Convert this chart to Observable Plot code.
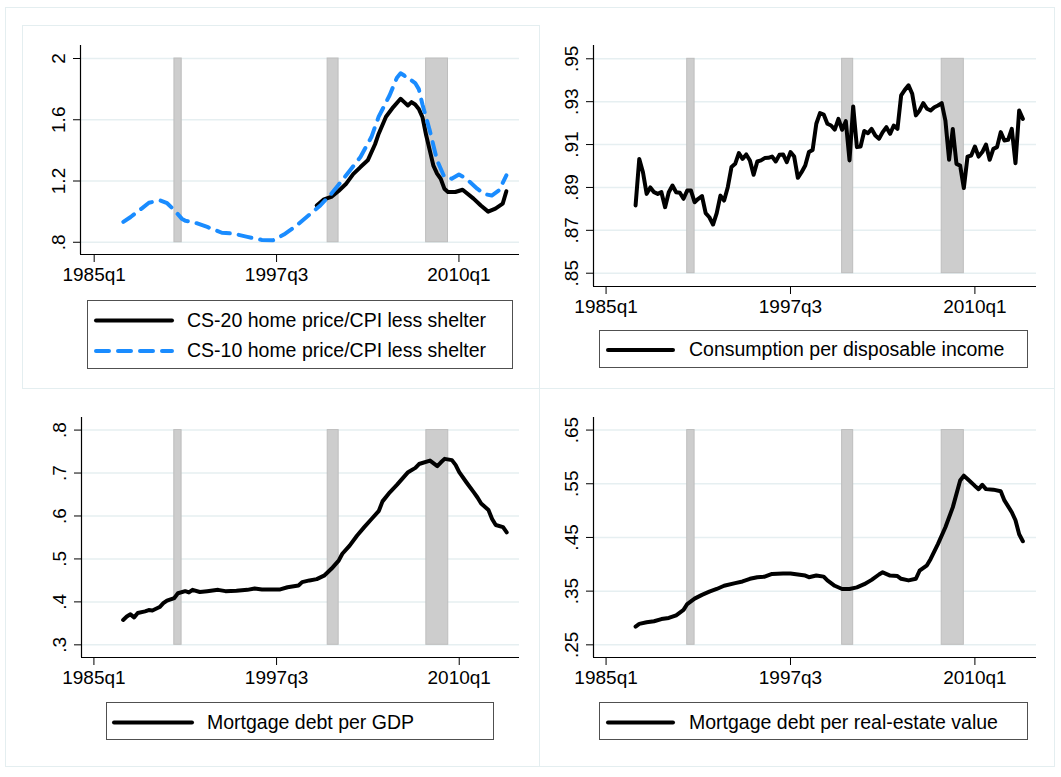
<!DOCTYPE html>
<html>
<head>
<meta charset="utf-8">
<script src="https://cdn.jsdelivr.net/npm/d3@7"></script>
<script src="https://cdn.jsdelivr.net/npm/@observablehq/plot@0.6"></script>
<style>
  body { margin: 0; background: #fff; font-family: "Liberation Sans", Arial, sans-serif; }
  #root { position: relative; width: 1061px; height: 777px; overflow: hidden; background: #fff; }
  .frame { position: absolute; background: #e4eef0; }
  .legend { position: absolute; box-sizing: border-box; border: 1px solid #505050; background: #fff; }
  .ltext { position: absolute; font-size: 19.5px; line-height: 24px; color: #000; white-space: nowrap; }
  svg.sample { position: absolute; overflow: visible; }
</style>
</head>
<body>
<div id="root"></div>
<script>
// ---------- data ----------
// quarters are Stata quarterly indices (1960q1 = 0, 1985q1 = 100)
const quarterTicks = [100, 150, 200];
const quarterTickLabels = ["1985q1", "1997q3", "2010q1"];

const recessionStart = [122, 164, 191];   // 1990q3, 2001q1, 2007q4
const recessionEnd   = [124, 167, 197];   // 1991q1, 2001q4, 2009q2

// Panel 1: home price / CPI less shelter
const cs10Quarter = [108,110,113,115,118,120,122,124,125,127,131,135,138,142,146,149,152,155,158,162,165,167,170,173,176,178,181,183,184,185,186,187,188,189,190,192,194,196,198,200,202,205,207,209,211,213];
const cs10Value   = [.933,.965,1.02,1.058,1.074,1.055,1.009,.954,.94,.933,.90,.862,.857,.835,.815,.813,.85,.90,.96,1.04,1.117,1.175,1.265,1.357,1.487,1.62,1.76,1.875,1.904,1.889,1.862,1.857,1.84,1.80,1.70,1.53,1.335,1.226,1.215,1.243,1.215,1.15,1.115,1.105,1.139,1.237];
const cs20Quarter = [161,163,165,167,169,171,173,175,177,178,180,182,184,185,186,187,188,189,190,191,192,193,194,195,196,197,199,201,204,206,208,210,212,213];
const cs20Value   = [1.04,1.08,1.096,1.135,1.18,1.245,1.291,1.335,1.44,1.509,1.62,1.683,1.737,1.715,1.693,1.715,1.70,1.67,1.617,1.50,1.40,1.30,1.248,1.215,1.15,1.128,1.128,1.143,1.085,1.04,1.0,1.02,1.052,1.133];
const p1Ticks = [0.8, 1.2, 1.6, 2];
const p1TickLabels = [".8", "1.2", "1.6", "2"];

// Panel 2: consumption per disposable income, 1987q1 (108) .. 2013q2 (213)
const consumptionFirstQuarter = 108;
const consumptionValue = [
  .8816,.9033,.8971,.887,.890,.8878,.887,.8878,.8808,.8878,.8909,.8878,.8875,.8847,.8886,.8886,.8831,.8847,.886,.878,
  .8761,.8727,.878,.8862,.8839,.8901,.8995,.901,.906,.9033,.9054,.9026,.8959,.9021,.9026,.9037,.9038,.9044,.9021,.9052,
  .9054,.9018,.9065,.9044,.8945,.8971,.9002,.9065,.9075,.9197,.9247,.924,.9197,.9189,.917,.922,.9169,.9209,.9026,.9278,
  .9088,.9091,.9163,.9153,.9173,.9142,.9127,.9158,.9181,.915,.9189,.9173,.9329,.9355,.9376,.9337,.9236,.9259,.9293,.9267,
  .9259,.9274,.9282,.9293,.9212,.9029,.9173,.901,.9002,.8897,.9044,.9049,.9091,.9044,.9065,.91,.9029,.908,.9088,.9158,
  .9119,.9122,.9173,.9013,.9259,.922];
const p2Ticks = [.85, .87, .89, .91, .93, .95];
const p2TickLabels = [".85", ".87", ".89", ".91", ".93", ".95"];

// Panel 3: mortgage debt per GDP
const mortGdpQuarter = [108,109,110,111,112,114,115,116,118,119,120,122,123,125,126,127,129,131,134,136,139,142,144,146,148,151,153,156,157,159,161,163,165,167,168,170,172,174,176,178,179,181,183,186,188,189,192,194,195,196,198,199,200,202,204,205,206,208,209,210,212,213];
const mortGdpValue   = [.358,.366,.371,.364,.374,.378,.381,.380,.388,.397,.403,.409,.420,.425,.422,.428,.423,.425,.428,.425,.426,.428,.431,.429,.429,.429,.434,.438,.446,.450,.453,.461,.477,.496,.512,.531,.554,.574,.593,.612,.634,.655,.673,.702,.712,.721,.729,.716,.725,.733,.730,.719,.702,.678,.655,.643,.629,.614,.593,.579,.574,.562];
const p3Ticks = [.3, .4, .5, .6, .7, .8];
const p3TickLabels = [".3", ".4", ".5", ".6", ".7", ".8"];

// Panel 4: mortgage debt per real-estate value
const mortReQuarter = [108,109,111,113,115,117,119,121,122,124,126,128,130,132,135,137,139,141,143,145,148,150,152,154,155,157,159,160,162,164,166,168,170,172,174,175,177,179,180,182,184,185,187,188,190,192,194,196,197,198,200,201,202,203,205,207,208,210,211,212,213];
const mortReValue   = [.284,.289,.292,.294,.298,.300,.305,.315,.326,.336,.343,.349,.354,.360,.365,.368,.373,.376,.377,.382,.383,.383,.381,.379,.376,.379,.377,.370,.360,.354,.354,.357,.363,.371,.381,.385,.379,.378,.373,.370,.373,.388,.398,.410,.438,.469,.506,.556,.565,.559,.546,.540,.548,.540,.539,.536,.519,.497,.482,.456,.443];
const p4Ticks = [.25, .35, .45, .55, .65];
const p4TickLabels = [".25", ".35", ".45", ".55", ".65"];

const legend1 = ["CS-20 home price/CPI less shelter", "CS-10 home price/CPI less shelter"];
const legend2 = ["Consumption per disposable income"];
const legend3 = ["Mortgage debt per GDP"];
const legend4 = ["Mortgage debt per real-estate value"];

// ---------- drawing ----------
const FONT = '"Liberation Sans", Arial, sans-serif';
const BLUE = "#1a8cff";
const root = document.getElementById("root");

const recessions = recessionStart.map((s, i) => ({start: s, end: recessionEnd[i]}));
const qLabel = new Map(quarterTicks.map((q, i) => [q, quarterTickLabels[i]]));

function frameDiv(l, t, w, h) {
  const d = document.createElement("div");
  d.className = "frame";
  Object.assign(d.style, {left: l + "px", top: t + "px", width: w + "px", height: h + "px"});
  root.appendChild(d);
}
// faint outer / panel frames
frameDiv(5, 7, 1049, 1); frameDiv(5, 766, 1049, 1);
frameDiv(5, 7, 1, 760); frameDiv(1054, 7, 1, 760);
frameDiv(22, 25, 517, 1); frameDiv(22, 25, 1, 363);
frameDiv(539, 25, 1, 741); frameDiv(22, 388, 1032, 1);

function panel(cfg) {
  const mL = 70, mR = 12, mT = 12, mB = 42;
  const [x0, y0, x1, y1] = cfg.box;
  const w = x1 - x0, h = y1 - y0;
  const tickLabel = new Map(cfg.ticks.map((t, i) => [t, cfg.tickLabels[i]]));
  const lo = d3.min(cfg.ticks), hi = d3.max(cfg.ticks);
  const chart = Plot.plot({
    width: w + mL + mR,
    height: h + mT + mB,
    marginLeft: mL, marginRight: mR, marginTop: mT, marginBottom: mB,
    style: {fontFamily: FONT, fontSize: "19px", color: "#000", background: "transparent", overflow: "visible"},
    x: {domain: cfg.xDomain},
    y: {domain: cfg.yDomain},
    marks: [
      Plot.ruleY(cfg.ticks, {stroke: "#e6eff1", strokeWidth: 1.5}),
      Plot.rect(recessions, {x1: "start", x2: "end", y1: () => lo, y2: () => hi, fill: "#cdcdcd", stroke: "#bebebe", strokeWidth: 1}),
      ...cfg.series.map(s => Plot.line(s.y, {x: s.x, y: s.y, stroke: s.color, strokeWidth: 4, strokeLinejoin: "round", strokeLinecap: "round", strokeDasharray: s.dash})),
      Plot.ruleX([cfg.xDomain[0]], {stroke: "#000", strokeWidth: 1.2}),
      Plot.ruleY([cfg.yDomain[0]], {stroke: "#000", strokeWidth: 1.2}),
      Plot.axisX({ticks: quarterTicks, tickFormat: d => qLabel.get(d), tickSize: 8, tickPadding: 5, label: null}),
      Plot.axisY({ticks: cfg.ticks, tickFormat: d => tickLabel.get(d), tickRotate: -90, tickSize: 7, tickPadding: 9, label: null})
    ]
  });
  Object.assign(chart.style, {position: "absolute", left: (x0 - mL) + "px", top: (y0 - mT) + "px"});
  root.appendChild(chart);
}

function legend(cfg) {
  const box = document.createElement("div");
  box.className = "legend";
  const [l, t, w, h] = cfg.box;
  Object.assign(box.style, {left: l + "px", top: t + "px", width: w + "px", height: h + "px"});
  root.appendChild(box);
  cfg.items.forEach((it, i) => {
    const cy = cfg.rows[i] - t;
    const ns = "http://www.w3.org/2000/svg";
    const svg = document.createElementNS(ns, "svg");
    svg.setAttribute("class", "sample");
    svg.setAttribute("width", 1); svg.setAttribute("height", 1);
    svg.style.left = "0px"; svg.style.top = "0px";
    const ln = document.createElementNS(ns, "line");
    ln.setAttribute("x1", cfg.line[0] - l); ln.setAttribute("x2", cfg.line[1] - l);
    ln.setAttribute("y1", cy); ln.setAttribute("y2", cy);
    ln.setAttribute("stroke", it.color); ln.setAttribute("stroke-width", 4);
    ln.setAttribute("stroke-linecap", "round");
    if (it.dash) ln.setAttribute("stroke-dasharray", it.dash);
    svg.appendChild(ln);
    box.appendChild(svg);
    const tx = document.createElement("div");
    tx.className = "ltext";
    tx.textContent = it.label;
    tx.style.left = (cfg.text - l) + "px";
    tx.style.top = (cy - 12 - 1) + "px";
    box.appendChild(tx);
  });
}

const DASH = "13,9";

panel({
  box: [80, 45, 519, 254], xDomain: [96.25, 216.6], yDomain: [0.72, 2.085],
  ticks: p1Ticks, tickLabels: p1TickLabels,
  series: [
    {x: cs20Quarter, y: cs20Value, color: "#000"},
    {x: cs10Quarter, y: cs10Value, color: BLUE, dash: DASH}
  ]
});
panel({
  box: [593, 45, 1036, 286], xDomain: [96.59, 216.7], yDomain: [.8438, .9562],
  ticks: p2Ticks, tickLabels: p2TickLabels,
  series: [
    {x: consumptionValue.map((v, i) => consumptionFirstQuarter + i), y: consumptionValue, color: "#000"}
  ]
});
panel({
  box: [81, 417, 519, 657], xDomain: [96.6, 216.5], yDomain: [.2705, .8293],
  ticks: p3Ticks, tickLabels: p3TickLabels,
  series: [{x: mortGdpQuarter, y: mortGdpValue, color: "#000"}]
});
panel({
  box: [593, 417, 1036, 657], xDomain: [96.59, 216.7], yDomain: [.2264, .6734],
  ticks: p4Ticks, tickLabels: p4TickLabels,
  series: [{x: mortReQuarter, y: mortReValue, color: "#000"}]
});

legend({box: [87, 300, 426, 69], rows: [319.5, 350], line: [95, 171], text: 186,
  items: [{label: legend1[0], color: "#000"}, {label: legend1[1], color: BLUE, dash: DASH}]});
legend({box: [599, 330, 429, 38], rows: [349], line: [607, 672], text: 688,
  items: [{label: legend2[0], color: "#000"}]});
legend({box: [106, 702, 388, 38], rows: [721.5], line: [113, 191], text: 206,
  items: [{label: legend3[0], color: "#000"}]});
legend({box: [599, 702, 429, 38], rows: [721.5], line: [607, 672], text: 688,
  items: [{label: legend4[0], color: "#000"}]});
</script>
</body>
</html>
